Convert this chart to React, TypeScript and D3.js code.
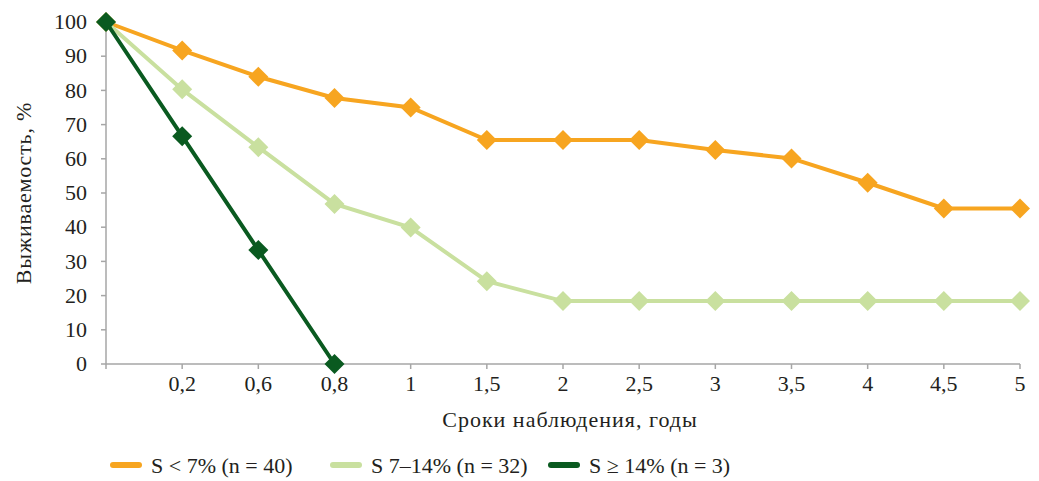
import React from "react";
import * as d3 from "d3";

const categories = ["", "0,2", "0,6", "0,8", "1", "1,5", "2", "2,5", "3", "3,5", "4", "4,5", "5"];
const seriesLow = [100, 91.7, 84, 77.8, 75, 65.5, 65.5, 65.5, 62.6, 60.1, 53, 45.5, 45.5];
const seriesMid = [100, 80.3, 63.4, 46.8, 39.9, 24.2, 18.4, 18.4, 18.4, 18.4, 18.4, 18.4, 18.4];
const seriesHigh = [100, 66.6, 33.3, 0];
const yTicks = [0, 10, 20, 30, 40, 50, 60, 70, 80, 90, 100];
const legendLabels = ["S < 7% (n = 40)", "S 7–14% (n = 32)", "S ≥ 14% (n = 3)"];
const colors = ["#F7A520", "#C9E09F", "#0A5A20"];

const W = 1039;
const H = 481;
const FONT = "'Liberation Serif', 'Times New Roman', serif";

export default function App() {
  const x = d3.scalePoint<string>().domain(categories.map((_, i) => String(i))).range([106, 1020]);
  const y = d3.scaleLinear().domain([0, 100]).range([364, 22]);
  const line = d3
    .line<number>()
    .x((_, i) => x(String(i)) as number)
    .y((d) => y(d));
  const series = [seriesLow, seriesMid, seriesHigh];
  const diamond = (cx: number, cy: number, r: number) =>
    `M${cx},${cy - r}L${cx + r},${cy}L${cx},${cy + r}L${cx - r},${cy}Z`;
  const legendX = [110, 330, 548];
  const axisColor = "#a6a6a6";
  const textColor = "#231f20";

  return (
    <svg width={W} height={H} style={{ position: "absolute", left: 0, top: 0, background: "#fff" }}>
      {/* Y axis */}
      <line x1={106} x2={106} y1={y(100)} y2={y(0)} stroke={axisColor} strokeWidth={1.5} />
      {yTicks.map((t) => (
        <g key={t}>
          <line x1={101} x2={106} y1={y(t)} y2={y(t)} stroke={axisColor} strokeWidth={1.5} />
          <text x={87} y={y(t)} dy="0.33em" textAnchor="end" fontFamily={FONT} fontSize={22} fill={textColor}>
            {t}
          </text>
        </g>
      ))}
      {/* X axis */}
      <line x1={106} x2={1020} y1={y(0)} y2={y(0)} stroke={axisColor} strokeWidth={1.5} />
      {categories.map((c, i) => (
        <g key={i}>
          <line
            x1={x(String(i)) as number}
            x2={x(String(i)) as number}
            y1={y(0)}
            y2={y(0) + 5}
            stroke={axisColor}
            strokeWidth={1.5}
          />
          <text
            x={x(String(i)) as number}
            y={391}
            textAnchor="middle"
            fontFamily={FONT}
            fontSize={22}
            fill={textColor}
          >
            {c}
          </text>
        </g>
      ))}
      <text
        x={570}
        y={427}
        textAnchor="middle"
        fontFamily={FONT}
        fontSize={22}
        letterSpacing={1}
        fill={textColor}
      >
        Сроки наблюдения, годы
      </text>
      <text
        transform={`translate(31,${193}) rotate(-90)`}
        textAnchor="middle"
        fontFamily={FONT}
        fontSize={22}
        letterSpacing={0.8}
        fill={textColor}
      >
        Выживаемость, %
      </text>
      {/* Series */}
      {series.map((s, si) => (
        <g key={si}>
          <path d={line(s) || ""} fill="none" stroke={colors[si]} strokeWidth={4} />
          {s.map((v, i) => (
            <path key={i} d={diamond(x(String(i)) as number, y(v), 10)} fill={colors[si]} />
          ))}
        </g>
      ))}
      {/* Legend */}
      {legendLabels.map((l, i) => (
        <g key={i}>
          <line
            x1={legendX[i] + 3}
            x2={legendX[i] + 29}
            y1={465}
            y2={465}
            stroke={colors[i]}
            strokeWidth={6}
            strokeLinecap="round"
          />
          <text x={legendX[i] + 41} y={473} fontFamily={FONT} fontSize={22} fill={textColor}>
            {l}
          </text>
        </g>
      ))}
    </svg>
  );
}
